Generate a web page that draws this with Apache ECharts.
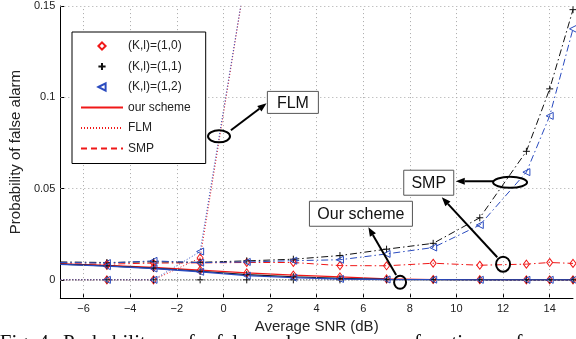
<!DOCTYPE html>
<html><head><meta charset="utf-8">
<script src="https://cdn.jsdelivr.net/npm/echarts@6/dist/echarts.min.js"></script>
<style>html,body{margin:0;padding:0;background:#fff;overflow:hidden}#c{width:576px;height:339px}</style>
</head><body><div id="c"></div>
<script>
// ---- data ----
const snr = [-7, -5, -3, -1, 1, 3, 5, 7, 9, 11, 13, 14, 15];
const xTicks = [-6, -4, -2, 0, 2, 4, 6, 8, 10, 12, 14];
const yTicks = [0, 0.05, 0.1, 0.15];
const legendNames = ['(K,l)=(1,0)', '(K,l)=(1,1)', '(K,l)=(1,2)', 'our scheme', 'FLM', 'SMP'];
// our scheme
const ourK10 = [0.0088, 0.0079, 0.0068, 0.0053, 0.0038, 0.0026, 0.0016, 0.0005, 0.0002, 0.0001, 0, 0, 0];
const ourK11 = [0.0086, 0.0077, 0.0064, 0.0047, 0.0029, 0.0017, 0.0008, 0.0003, 0.0001, 0, 0, 0, 0];
const ourK12 = [0.0085, 0.0075, 0.0062, 0.0044, 0.0023, 0.0012, 0.0005, 0.0002, 0.0001, 0, 0, 0, 0];
// FLM
const flmK10 = [0, 0, 0, 0.0120, 0.17, 0.45, 0.8, 0.95, 1, 1, 1, 1, 1];
const flmK11 = [0, 0, 0, 0, 0, 0, 0, 0, 0, 0, 0, 0, 0];
const flmK12 = [0, 0, 0, 0.0155, 0.17, 0.45, 0.8, 0.95, 1, 1, 1, 1, 1];
// SMP
const smpK10 = [0.0088, 0.0086, 0.0092, 0.0093, 0.0095, 0.0095, 0.0078, 0.0077, 0.0091, 0.0080, 0.0086, 0.0095, 0.0090];
const smpK11 = [0.0098, 0.0095, 0.0099, 0.0096, 0.0104, 0.0113, 0.0133, 0.0168, 0.0200, 0.0340, 0.0704, 0.1046, 0.1480];
const smpK12 = [0.0095, 0.0092, 0.0104, 0.0094, 0.0098, 0.0105, 0.0110, 0.0142, 0.0177, 0.0300, 0.0590, 0.0898, 0.1375];

// ---- styles ----
const RED = '#f01818', BLACK = '#111111', BLUE = '#2a4bbf';
const markers = [
  {color: RED, symbol: 'diamond', size: [6, 8], rotate: 0},
  {color: BLACK, symbol: 'path://M5,0L5,10M0,5L10,5', size: 7, rotate: 0},
  {color: BLUE, symbol: 'triangle', size: [7, 7], rotate: 90}
];
const SOLID = 'solid', DOTTED = [1, 2], DASHDOT = [7, 3, 1.5, 3];

function mk(vals, k, lt, lw) {
  const m = markers[k];
  return {
    type: 'line', name: 's' + k + String(lt), silent: true, animation: false,
    data: snr.map((x, i) => [x, vals[i]]),
    symbol: (v, p) => (p.dataIndex === 0 ? 'none' : m.symbol),
    symbolSize: m.size, symbolRotate: m.rotate, showAllSymbol: true,
    itemStyle: {color: 'transparent', borderColor: m.color, borderWidth: 1},
    lineStyle: {color: m.color, width: lw || 1, type: lt},
    clip: true, z: 3
  };
}
function legendMarker(name, k) {
  const m = markers[k];
  return {type: 'line', name, data: [], symbol: m.symbol, symbolSize: m.size, symbolRotate: m.rotate,
    itemStyle: {color: 'transparent', borderColor: m.color, borderWidth: 1},
    lineStyle: {width: 0, color: m.color}};
}
function legendLine(name, lt) {
  return {type: 'line', name, data: [], symbol: 'circle', symbolSize: 0,
    itemStyle: {color: 'transparent', borderColor: 'transparent', borderWidth: 0},
    lineStyle: {color: RED, width: 1, type: lt}};
}

const font = 'Liberation Sans';
const chart = echarts.init(document.getElementById('c'), null, {renderer: 'canvas'});
const option = {
  animation: false,
  backgroundColor: '#fff',
  grid: {left: 56, right: 3, top: 6, bottom: 40, containLabel: false},
  xAxis: {
    type: 'value', min: -7, max: 15, interval: 1,
    name: 'Average SNR (dB)', nameLocation: 'middle', nameGap: 16,
    nameTextStyle: {fontSize: 15, color: '#222', fontFamily: font},
    axisLine: {onZero: false, lineStyle: {color: '#000', width: 1}},
    axisTick: {inside: true, length: 4, customValues: xTicks, lineStyle: {color: '#000'}},
    axisLabel: {customValues: xTicks, fontSize: 11, color: '#222', fontFamily: font, margin: 5,
      formatter: v => (v < 0 ? '\u2212' + Math.abs(v) : String(v))},
    splitLine: {show: false}
  },
  yAxis: {
    type: 'value', min: -0.01, max: 0.15, interval: 0.01,
    name: 'Probability of false alarm', nameLocation: 'middle', nameGap: 25,
    nameTextStyle: {fontSize: 15, color: '#222', fontFamily: font},
    axisLine: {onZero: false, lineStyle: {color: '#000', width: 1}},
    axisTick: {inside: true, length: 4, customValues: yTicks, lineStyle: {color: '#000'}},
    axisLabel: {customValues: yTicks, fontSize: 11, color: '#222', fontFamily: font, margin: 5,
      formatter: v => String(Math.round(v * 100) / 100)},
    splitLine: {show: false}
  },
  legend: {
    data: legendNames, orient: 'vertical', left: 72, top: 32,
    padding: [7, 15, 8, 8], itemWidth: 42, itemHeight: 9, itemGap: 6.5,
    borderColor: '#000', borderWidth: 1, backgroundColor: '#fff',
    textStyle: {fontSize: 12, color: '#222', fontFamily: font, lineHeight: 14},
    selectedMode: false, z: 10
  },
  series: [
    {type: 'line', name: 'grid', data: [], silent: true, z: 1,
      markLine: {silent: true, symbol: 'none', label: {show: false}, animation: false,
        lineStyle: {type: [1, 3], color: '#a8a8a8', width: 1},
        emphasis: {disabled: true},
        data: xTicks.map(v => ({xAxis: v})).concat(yTicks.map(v => ({yAxis: v})))}},
    mk(flmK10, 0, DOTTED), mk(flmK11, 1, DOTTED), mk(flmK12, 2, DOTTED),
    mk(smpK10, 0, DASHDOT), mk(smpK11, 1, DASHDOT), mk(smpK12, 2, DASHDOT),
    mk(ourK10, 0, SOLID, 1.2), mk(ourK11, 1, SOLID, 1.2), mk(ourK12, 2, SOLID, 1.4),
    legendMarker(legendNames[0], 0), legendMarker(legendNames[1], 1), legendMarker(legendNames[2], 2),
    legendLine(legendNames[3], 'solid'), legendLine(legendNames[4], [1, 2]), legendLine(legendNames[5], [6, 4])
  ]
};
chart.setOption(option);

// ---- annotations (anchored in data coordinates) ----
const annoBoxes = [
  {label: 'FLM', at: [2.98, 0.0972], w: 51, h: 22},
  {label: 'SMP', at: [8.81, 0.0532], w: 50, h: 25},
  {label: 'Our scheme', at: [5.9, 0.0362], w: 103, h: 25}
];
const annoEllipses = [
  {at: [-0.19, 0.0786], rx: 11, ry: 6},
  {at: [12.3, 0.0534], rx: 17, ry: 5.5},
  {at: [12.0, 0.0086], rx: 7, ry: 7.5},
  {at: [7.58, -0.0013], rx: 6, ry: 6.5}
];
const annoArrows = [
  {from: [0.32, 0.0819], to: [1.85, 0.0967]},
  {from: [11.58, 0.054], to: [9.97, 0.054]},
  {from: [11.75, 0.0124], to: [9.37, 0.0452]},
  {from: [7.41, 0.0026], to: [6.22, 0.0288]}
];
const captionHead = 'Fig. 4.';
const captionWords = ['Probability', 'of', 'false', 'alarm', 'as', 'a', 'function', 'of'];
const P = (pt) => chart.convertToPixel({gridIndex: 0}, pt);
const g = [];
annoEllipses.forEach(e => {
  const c = P(e.at);
  g.push({type: 'ellipse', z: 20, shape: {cx: c[0], cy: c[1], rx: e.rx, ry: e.ry},
    style: {fill: 'none', stroke: '#000', lineWidth: 2}});
});
annoArrows.forEach(a => {
  const p1 = P(a.from), p2 = P(a.to);
  const dx = p2[0] - p1[0], dy = p2[1] - p1[1], L = Math.hypot(dx, dy);
  const ux = dx / L, uy = dy / L, hl = 9, hw = 3.5;
  const bx = p2[0] - ux * hl, by = p2[1] - uy * hl;
  g.push({type: 'line', z: 20, shape: {x1: p1[0], y1: p1[1], x2: bx, y2: by},
    style: {stroke: '#000', lineWidth: 2}});
  g.push({type: 'polygon', z: 20, shape: {points: [[p2[0], p2[1]], [bx - uy * hw, by + ux * hw], [bx + uy * hw, by - ux * hw]]},
    style: {fill: '#000'}});
});
annoBoxes.forEach(b => {
  const c = P(b.at);
  g.push({type: 'rect', z: 21, shape: {x: c[0] - b.w / 2, y: c[1] - b.h / 2, width: b.w, height: b.h},
    style: {fill: '#fff', stroke: '#555', lineWidth: 1}});
  g.push({type: 'text', z: 22, style: {text: b.label, x: c[0], y: c[1] + 1, align: 'center', verticalAlign: 'middle',
    font: '16px "Liberation Sans"', fill: '#111'}});
});
g.push({type: 'text', z: 22, style: {text: captionHead, x: 54, y: 333,
  align: 'right', verticalAlign: 'top', font: '21px "Liberation Serif"', fill: '#111'}});
g.push({type: 'text', z: 22, style: {text: captionWords.join('    '), x: 63, y: 333,
  align: 'left', verticalAlign: 'top', font: '21px "Liberation Serif"', fill: '#111'}});
chart.setOption({graphic: g});
</script></body></html>
